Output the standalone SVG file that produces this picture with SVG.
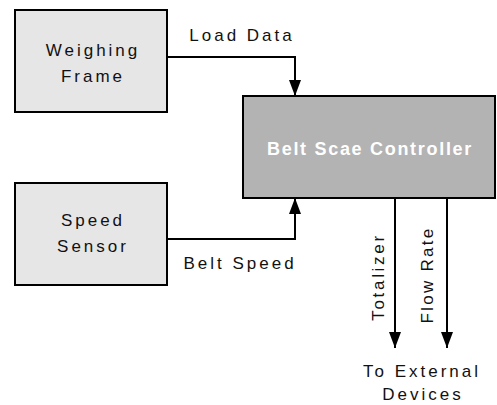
<svg xmlns="http://www.w3.org/2000/svg" width="497" height="405" viewBox="0 0 497 405">
<style>
.box{fill:#e6e6e6;stroke:#000;stroke-width:2}
.ctrl{fill:#b3b3b3;stroke:#000;stroke-width:2}
.t{font-family:"Liberation Sans",Arial,sans-serif;font-size:17px;fill:#111;letter-spacing:3px;text-anchor:middle}
.tw{font-family:"Liberation Sans",Arial,sans-serif;font-size:18px;font-weight:bold;fill:#fff;letter-spacing:1.7px;text-anchor:middle}
.c{fill:none;stroke:#000;stroke-width:2;marker-end:url(#ah)}
</style>
<defs>
<marker id="ah" markerUnits="userSpaceOnUse" markerWidth="16" markerHeight="12" refX="16" refY="6" orient="auto" viewBox="0 0 16 12">
<path d="M0,0 L16,6 L0,12 z" fill="#000"/>
</marker>
</defs>
<g id="weighing-frame">
<rect class="box" x="15" y="10" width="152" height="102"/>
<text class="t" x="93" y="56">Weighing</text>
<text class="t" x="93" y="82">Frame</text>
</g>
<g id="speed-sensor">
<rect class="box" x="15" y="183" width="152" height="102"/>
<text class="t" x="93" y="226">Speed</text>
<text class="t" x="93" y="252">Sensor</text>
</g>
<g id="controller">
<rect class="ctrl" x="243" y="96" width="252" height="102"/>
<text class="tw" x="370" y="155">Belt Scae Controller</text>
</g>
<g id="external">
<text class="t" x="422" y="377">To External</text>
<text class="t" x="423" y="400">Devices</text>
</g>
<g id="connectors">
<path class="c" d="M167,57 H295 V96"/>
<path class="c" d="M167,239 H295 V198"/>
<path class="c" d="M395,198 V348"/>
<path class="c" d="M447,198 V348"/>
<text class="t" x="242" y="41">Load Data</text>
<text class="t" x="240" y="269">Belt Speed</text>
<text class="t" transform="translate(384,277) rotate(-90)" style="letter-spacing:2.7px">Totalizer</text>
<text class="t" transform="translate(433,275) rotate(-90)" style="letter-spacing:2.3px">Flow Rate</text>
</g>
</svg>
